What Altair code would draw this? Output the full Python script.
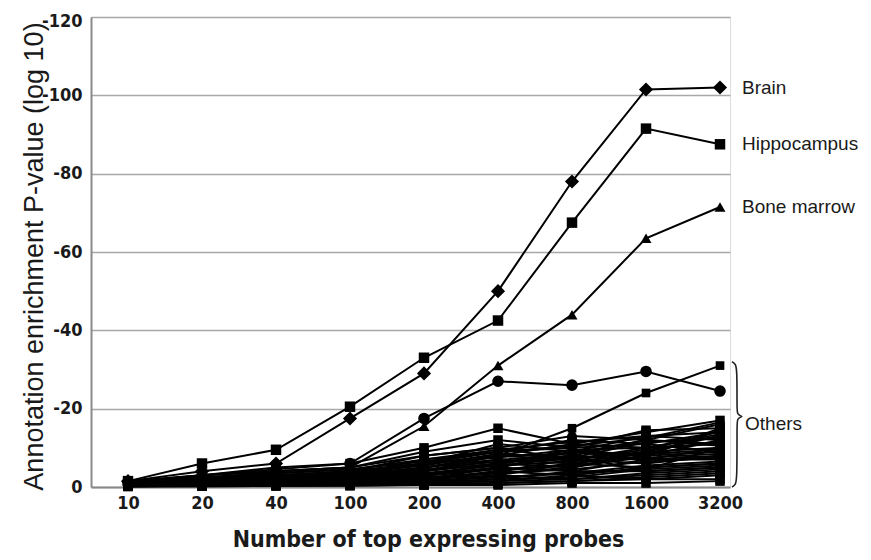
import altair as alt
import pandas as pd

categories = ["10", "20", "40", "100", "200", "400", "800", "1600", "3200"]

brain = [-1.5, -4.0, -6.0, -17.5, -29.0, -50.0, -78.0, -101.5, -102.0]
hippocampus = [-1.5, -6.0, -9.5, -20.5, -33.0, -42.5, -67.5, -91.5, -87.5]
bone_marrow = [-1.5, -3.0, -4.0, -5.0, -15.5, -31.0, -44.0, -63.5, -71.5]

other_circle = [-1.0, -3.0, -4.5, -6.0, -17.5, -27.0, -26.0, -29.5, -24.5]
other_rising = [-1.0, -2.0, -3.0, -4.0, -6.0, -8.0, -15.0, -24.0, -31.0]

others = [
    [-1.0, -3.0, -5.0, -6.0, -10.0, -15.0, -11.0, -14.0, -17.0],
    [-1.5, -3.0, -4.0, -5.0, -9.0, -12.0, -10.0, -14.5, -15.0],
    [-1.0, -2.0, -3.0, -4.0, -8.0, -10.0, -13.0, -12.0, -16.0],
    [-1.0, -2.5, -3.0, -3.0, -7.0, -9.0, -12.0, -11.0, -14.0],
    [-1.0, -2.0, -2.0, -3.0, -6.0, -11.0, -9.0, -13.0, -12.0],
    [-0.5, -1.5, -2.0, -3.0, -5.0, -8.0, -11.0, -10.0, -13.0],
    [-1.0, -1.0, -2.0, -2.0, -5.0, -7.0, -8.0, -12.0, -11.0],
    [-1.0, -2.0, -3.0, -2.0, -4.0, -6.0, -9.0, -8.0, -12.0],
    [-0.5, -1.0, -1.5, -2.0, -4.0, -7.0, -6.0, -9.0, -10.0],
    [-1.0, -1.5, -2.0, -3.0, -3.0, -5.0, -8.0, -7.0, -10.0],
    [-0.5, -1.0, -1.0, -2.0, -3.0, -6.0, -5.0, -8.0, -9.0],
    [-1.0, -1.0, -2.0, -2.0, -2.0, -4.0, -7.0, -6.0, -8.0],
    [-0.5, -0.5, -1.0, -1.0, -2.0, -5.0, -4.0, -7.0, -7.0],
    [-1.0, -1.0, -1.0, -1.5, -2.0, -3.0, -6.0, -5.0, -6.0],
    [-0.5, -1.0, -1.0, -1.0, -1.5, -4.0, -3.0, -5.0, -6.0],
    [-0.5, -0.5, -0.5, -1.0, -1.0, -2.0, -4.0, -4.0, -5.0],
    [-0.3, -0.5, -1.0, -1.0, -1.0, -3.0, -2.0, -3.0, -4.0],
    [-0.3, -0.3, -0.5, -0.5, -1.0, -1.5, -3.0, -2.0, -3.0],
    [-0.2, -0.3, -0.3, -0.5, -0.5, -1.0, -1.5, -2.0, -2.0],
    [-0.2, -0.2, -0.3, -0.3, -0.5, -0.5, -1.0, -1.0, -1.5],
    [-1.0, -2.0, -4.0, -5.0, -8.0, -10.0, -7.0, -9.0, -13.0],
    [-1.0, -1.5, -2.5, -4.0, -6.0, -9.0, -10.0, -11.0, -9.0],
    [-0.5, -1.0, -2.0, -2.5, -4.0, -8.0, -7.0, -10.0, -11.0],
    [-0.5, -1.0, -1.5, -1.5, -3.0, -5.0, -9.0, -7.0, -8.0],
    [-1.0, -1.0, -1.5, -2.0, -2.5, -3.5, -5.0, -9.0, -7.0],
    [-0.5, -0.5, -1.0, -1.0, -1.5, -2.5, -3.5, -4.5, -10.0],
    [-0.5, -1.0, -1.0, -1.5, -2.0, -4.0, -6.0, -8.0, -15.0],
    [-1.0, -1.5, -2.0, -2.5, -3.0, -6.0, -8.0, -4.0, -5.0],
    [-1.5, -2.0, -3.5, -4.5, -7.0, -9.5, -11.5, -13.0, -14.0],
    [-1.0, -2.5, -3.5, -4.5, -6.5, -9.0, -10.5, -12.5, -16.5],
    [-1.0, -1.5, -2.5, -3.5, -5.5, -8.5, -7.5, -11.5, -12.5],
    [-0.8, -1.2, -2.0, -2.8, -4.5, -6.5, -7.0, -9.5, -11.5],
    [-0.6, -1.0, -1.5, -2.2, -3.5, -5.5, -6.5, -8.5, -9.5],
    [-0.5, -0.8, -1.2, -1.8, -2.8, -4.5, -5.5, -7.5, -8.5],
    [-0.4, -0.6, -1.0, -1.4, -2.2, -3.5, -4.5, -6.5, -7.5],
    [-0.3, -0.5, -0.8, -1.0, -1.6, -2.5, -3.5, -5.5, -6.5],
    [-0.2, -0.4, -0.6, -0.8, -1.2, -2.0, -2.5, -4.5, -5.5],
    [-0.2, -0.3, -0.4, -0.6, -0.8, -1.5, -2.0, -3.5, -4.5],
    [-0.1, -0.2, -0.3, -0.4, -0.6, -1.0, -1.5, -2.5, -3.5],
    [-1.2, -1.8, -2.8, -3.8, -6.0, -7.5, -9.5, -10.0, -13.5],
    [-0.8, -1.6, -2.4, -3.2, -5.0, -8.0, -8.5, -12.0, -10.5],
    [-0.6, -1.0, -1.8, -2.6, -4.2, -6.0, -9.5, -8.0, -14.5],
]
other_shapes = ["square", "square", "circle", "square", "cross", "square", "circle",
                "square", "square", "cross", "square", "circle", "square", "square",
                "cross", "square", "square", "circle", "square", "square", "square",
                "cross", "square", "circle", "square", "square", "square", "cross",
                "square", "circle", "square", "square", "cross", "square", "square",
                "circle", "square", "square", "square", "square", "cross", "square"]

named = [
    ("Brain", brain, "diamond", 200),
    ("Hippocampus", hippocampus, "square", 110),
    ("Bone marrow", bone_marrow, "triangle-up", 120),
]

rows = []
for i, (vals, shp) in enumerate(zip(others, other_shapes)):
    for k, v in enumerate(vals):
        rows.append({"series": f"o{i:02d}", "idx": k, "value": v, "shape": shp, "size": 90})
for k, v in enumerate(other_rising):
    rows.append({"series": "p_rising", "idx": k, "value": v, "shape": "square", "size": 75})
for k, v in enumerate(other_circle):
    rows.append({"series": "p_circle", "idx": k, "value": v, "shape": "circle", "size": 135})
for name, vals, shp, sz in named:
    for k, v in enumerate(vals):
        rows.append({"series": "z_" + name, "idx": k, "value": v, "shape": shp, "size": sz})
df = pd.DataFrame(rows)

labels = pd.DataFrame([{"idx": len(categories) - 1, "value": vals[-1], "text": name}
                       for name, vals, _, _ in named])

all_other = [v for s in others for v in s] + other_circle + other_rising
top = min(all_other) - 1.0
tip = -18.0
last = len(categories) - 1
brace = pd.DataFrame({
    "k": list(range(12)),
    "idx": [last + 0.162, last + 0.21, last + 0.23, last + 0.23, last + 0.23, last + 0.297,
            last + 0.297, last + 0.23, last + 0.23, last + 0.23, last + 0.21, last + 0.162],
    "value": [top, top + 0.6, top + 2.0, tip - 2.0, tip - 0.6, tip,
              tip, tip + 0.6, tip + 2.0, -2.0, -0.6, 0.0],
})
others_label = pd.DataFrame({"idx": [last], "value": [tip + 2.0], "text": ["Others"]})

COND = "DejaVu Sans Condensed, Liberation Sans Narrow, Liberation Sans, Arial"
REG = "Liberation Sans, Arial, Helvetica"

label_js = "[" + ",".join(f"'{c}'" for c in categories) + "]"

xscale = alt.Scale(domain=[-0.5, last + 0.135], nice=False, zero=False)
yscale = alt.Scale(domain=[-120, 0], reverse=True, nice=False, zero=False)

xaxis = alt.Axis(values=list(range(len(categories))), labelExpr=label_js + "[datum.value]",
                 grid=False, ticks=False, domainColor="#8a8a8a", domainWidth=2,
                 labelFont=COND, labelFontSize=18, labelFontWeight="bold", labelColor="#1a1a1a",
                 labelPadding=7, title="Number of top expressing probes",
                 titleFont=COND, titleFontSize=23, titleFontWeight="bold", titleColor="#1a1a1a",
                 titleX=337, titleY=41, titleBaseline="top", titleAlign="center")
yaxis = alt.Axis(values=list(range(-120, 1, 20)), labelExpr="'' + datum.value",
                 grid=True, gridColor="#a8a8a8", gridWidth=1.5, ticks=False,
                 domainColor="#8a8a8a", domainWidth=2,
                 labelFont=COND, labelFontSize=18, labelFontWeight="bold", labelColor="#1a1a1a",
                 labelPadding=9,
                 labelOffset={"condition": {"test": "datum.value <= -120", "value": 4}, "value": 0},
                 title="Annotation enrichment P-value (log 10)",
                 titleFont=REG, titleFontSize=27, titleFontWeight="normal", titleColor="#1a1a1a",
                 titleAngle=270, titleBaseline="alphabetic", titleAlign="center",
                 titleX=-49, titleY=239)

X = alt.X("idx:Q", scale=xscale, axis=xaxis)
Y = alt.Y("value:Q", scale=yscale, axis=yaxis)
Xn = alt.X("idx:Q", scale=xscale)
Yn = alt.Y("value:Q", scale=yscale)

base = alt.Chart(df)
lines = base.mark_line(color="black", strokeWidth=2).encode(
    x=X, y=Y, detail="series:N", order="idx:Q")
points = base.mark_point(filled=True, color="black", opacity=1).encode(
    x=Xn, y=Yn, shape=alt.Shape("shape:N", scale=None), size=alt.Size("size:Q", scale=None))
text = alt.Chart(labels).mark_text(align="left", baseline="middle", dx=22, font=REG,
                                   fontSize=19, color="#1a1a1a").encode(x=Xn, y=Yn, text="text:N")
brace_line = alt.Chart(brace).mark_line(color="#222", strokeWidth=1.6, interpolate="basis").encode(
    x=Xn, y=Yn, order="k:Q")
others_text = alt.Chart(others_label).mark_text(align="left", baseline="middle", dx=25, font=REG,
                                                fontSize=19, color="#1a1a1a").encode(x=Xn, y=Yn, text="text:N")

chart = alt.layer(lines, points, text, brace_line, others_text).properties(
    width=639, height=470,
    autosize=alt.AutoSizeParams(type="none"),
    padding={"left": 83, "top": 9, "right": 133, "bottom": 65},
).configure_view(stroke=None).configure(background="white")

chart.save("out.html", embed_options={"renderer": "svg", "actions": False})
